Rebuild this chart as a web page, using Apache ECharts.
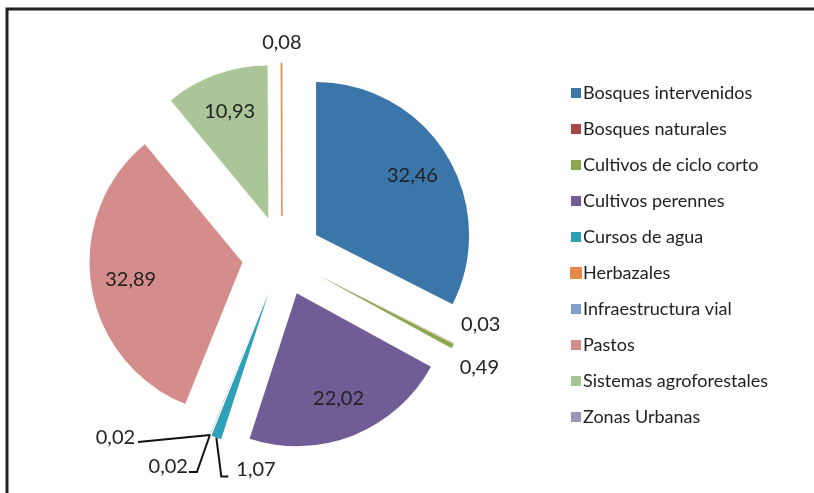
<!DOCTYPE html>
<html>
<head>
<meta charset="utf-8">
<script src="https://cdn.jsdelivr.net/npm/echarts@6/dist/echarts.min.js"></script>
<style>
  html, body { margin: 0; padding: 0; background: #fff; }
  #chart { width: 814px; height: 493px; }
</style>
</head>
<body>
<div id="chart"></div>
<script>
// categories in the order the slices are drawn (clockwise from 12 o'clock)
const sliceNames = [
  "Bosques intervenidos",
  "Bosques naturales",
  "Cultivos de ciclo corto",
  "Cultivos perennes",
  "Cursos de agua",
  "Infraestructura vial",
  "Zonas Urbanas",
  "Pastos",
  "Sistemas agroforestales",
  "Herbazales"
];
const sliceValues = [32.46, 0.03, 0.49, 22.02, 1.07, 0.02, 0.02, 32.89, 10.93, 0.08];
const sliceColors = [
  "#3a76a9", "#aa4643", "#8ca94f", "#715d95", "#2ea0b8",
  "#809fcf", "#9c95bd", "#d58d8c", "#aac597", "#e5884a"
];

// legend order (alphabetical, as in the original)
const legendNames = [
  "Bosques intervenidos",
  "Bosques naturales",
  "Cultivos de ciclo corto",
  "Cultivos perennes",
  "Cursos de agua",
  "Herbazales",
  "Infraestructura vial",
  "Pastos",
  "Sistemas agroforestales",
  "Zonas Urbanas"
];

const fmt = v => v.toFixed(2).replace(".", ",");
const FONT = "Lato";
const center = [282, 256];
const radius = 153;
const explode = 40;

// label line settings for the thin slices (the big ones are labelled inside)
const smallLabelLine = {
  "Bosques naturales": { show: false, length: 0, length2: 0 },
  "Cultivos de ciclo corto": { show: false, length: 0, length2: 0 },
  "Herbazales": { show: false, length: 0, length2: -22 },
  "Cursos de agua": { show: true, length: 0, length2: 0 },
  "Infraestructura vial": { show: true, length: 0, length2: 0 },
  "Zonas Urbanas": { show: true, length: 0, length2: 0 }
};

const chart = echarts.init(document.getElementById("chart"));

const mainData = sliceNames.map((name, i) => ({
  name,
  value: sliceValues[i],
  selected: true,
  itemStyle: name === "Herbazales"
    ? { color: sliceColors[i], borderColor: sliceColors[i], borderWidth: 1 }
    : { color: sliceColors[i] },
  label: { show: !!smallLabelLine[name] },
  labelLine: smallLabelLine[name] || { show: false }
}));

// transparent copy, only used to place the big labels further out
const labelData = sliceNames.map((name, i) => ({
  name,
  value: sliceValues[i],
  selected: true,
  itemStyle: { color: "rgba(0,0,0,0)" },
  label: { show: sliceValues[i] >= 5 }
}));

// move the small labels next to their slices, with leader lines under the pie
const smallLabelLayout = params => {
  const name = sliceNames[params.dataIndex];
  const pts = params.labelLinePoints;
  const w = params.labelRect.width;
  if (name === "Herbazales") return { dx: 3, dy: -20 };
  if (name === "Bosques naturales") return { dx: 2, dy: -19 };
  if (name === "Cultivos de ciclo corto") return { dx: 2, dy: 21 };
  if (!pts) return {};
  const p = pts[0];
  if (name === "Infraestructura vial") {
    return { dx: -70, dy: 2, labelLinePoints: [p, [p[0] - 72, p[1] + 7], [p[0] - 72, p[1] + 7]] };
  }
  if (name === "Zonas Urbanas") {
    return { dx: -17, dy: 32, labelLinePoints: [p, [p[0] - 13, p[1] + 37], [p[0] - 21, p[1] + 37]] };
  }
  if (name === "Cursos de agua") {
    return { dx: w + 25, dy: 32, labelLinePoints: [p, [p[0] + 5, p[1] + 39], [p[0] + 12, p[1] + 39]] };
  }
  return {};
};

chart.setOption({
  animation: false,
  legend: {
    orient: "vertical",
    left: 565,
    top: 79,
    data: legendNames,
    icon: "rect",
    itemWidth: 10,
    itemHeight: 10,
    itemGap: 18,
    selectedMode: false,
    textStyle: { fontFamily: FONT, fontSize: 18, color: "#222", lineHeight: 18, padding: [0, 0, 0, -3] }
  },
  graphic: [
    {
      type: "rect",
      shape: { x: 7, y: 9, width: 900, height: 600 },
      style: { fill: "none", stroke: "#222", lineWidth: 3 },
      silent: true
    }
  ],
  series: [
    {
      type: "pie",
      center,
      radius,
      startAngle: 90,
      clockwise: true,
      selectedMode: "multiple",
      selectedOffset: explode,
      emphasis: { scale: false },
      avoidLabelOverlap: false,
      label: {
        position: "outside",
        formatter: p => fmt(p.value),
        fontFamily: FONT,
        fontSize: 20,
        color: "#222"
      },
      labelLine: {
        lineStyle: { color: "#111", width: 2 }
      },
      labelLayout: smallLabelLayout,
      data: mainData
    },
    {
      type: "pie",
      center,
      radius: radius * 1.44,
      startAngle: 90,
      clockwise: true,
      selectedMode: "multiple",
      selectedOffset: explode,
      silent: true,
      emphasis: { scale: false },
      label: {
        position: "inside",
        formatter: p => fmt(p.value),
        fontFamily: FONT,
        fontSize: 20,
        color: "#222"
      },
      labelLine: { show: false },
      data: labelData
    }
  ]
});
</script>
</body>
</html>
